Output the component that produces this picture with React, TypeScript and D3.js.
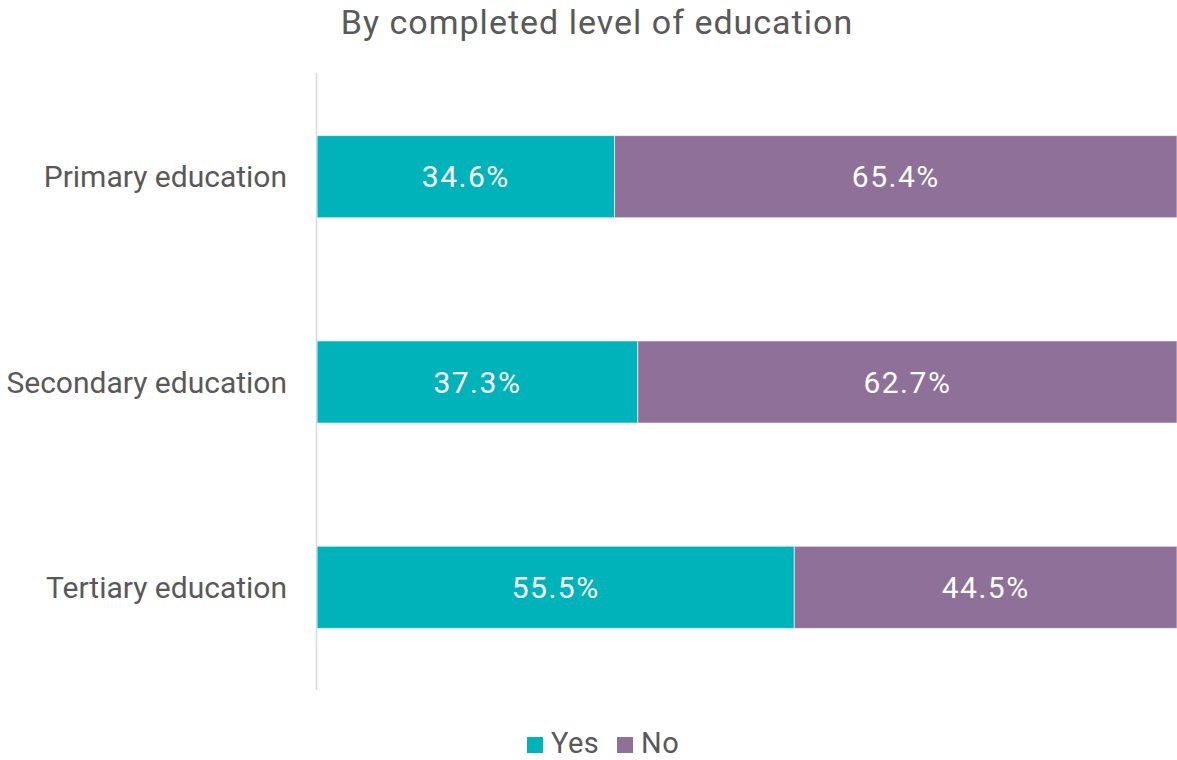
import React from "react";
import * as d3 from "d3";

const categories = ["Primary education", "Secondary education", "Tertiary education"];
const yesValues = [34.6, 37.3, 55.5];
const noValues = [65.4, 62.7, 44.5];
const seriesNames = ["Yes", "No"];
const seriesColors = ["#00B2BA", "#8E7098"];
const title = "By completed level of education";

const W = 1177;
const H = 760;
const FONT = "Roboto, 'Open Sans', sans-serif";

export default function App() {
  const x = d3.scaleLinear().domain([0, 100]).range([317, 1177]);
  const y = d3.scaleBand<string>().domain(categories).range([74, 690]).paddingInner(0.6).paddingOuter(0.3);
  const stackData = categories.map((c, i) => ({ cat: c, Yes: yesValues[i], No: noValues[i] }));
  const stack = d3.stack<any>().keys(seriesNames)(stackData);
  const fmt = (v: number) => v.toFixed(1) + "%";

  return (
    <svg width={W} height={H} style={{ position: "absolute", left: 0, top: 0, background: "#fff" }}>
      <text x={597} y={34} textAnchor="middle" fontFamily={FONT} fontSize={34} letterSpacing={1} fill="#595959">
        {title}
      </text>
      {stack.map((layer, si) =>
        layer.map((d, i) => {
          const x0 = x(d[0]);
          const x1 = x(d[1]);
          const yy = y(categories[i])!;
          return (
            <g key={si + "-" + i}>
              <rect x={x0} y={yy} width={x1 - x0} height={y.bandwidth()} fill={seriesColors[si]} stroke="#ffffff" strokeOpacity={0.6} strokeWidth={1} />
              <text
                x={(x0 + x1) / 2}
                y={yy + y.bandwidth() / 2}
                dy="0.36em"
                textAnchor="middle"
                fontFamily={FONT}
                fontSize={30}
                letterSpacing={1.5}
                fill="#ffffff"
              >
                {fmt(d[1] - d[0])}
              </text>
            </g>
          );
        })
      )}
      <line x1={316.5} x2={316.5} y1={73} y2={690} stroke="#d9d9d9" strokeWidth={1.5} />
      {categories.map((c) => (
        <text
          key={c}
          x={287}
          y={y(c)! + y.bandwidth() / 2}
          dy="0.36em"
          textAnchor="end"
          fontFamily={FONT}
          fontSize={30}
          fill="#595959"
        >
          {c}
        </text>
      ))}
      {seriesNames.map((s, i) => {
        const lx = [527, 617][i];
        return (
          <g key={s}>
            <rect x={lx} y={737} width={16} height={16} fill={seriesColors[i]} />
            <text x={lx + 24} y={753} fontFamily={FONT} fontSize={29} letterSpacing={0.5} fill="#595959">
              {s}
            </text>
          </g>
        );
      })}
    </svg>
  );
}
